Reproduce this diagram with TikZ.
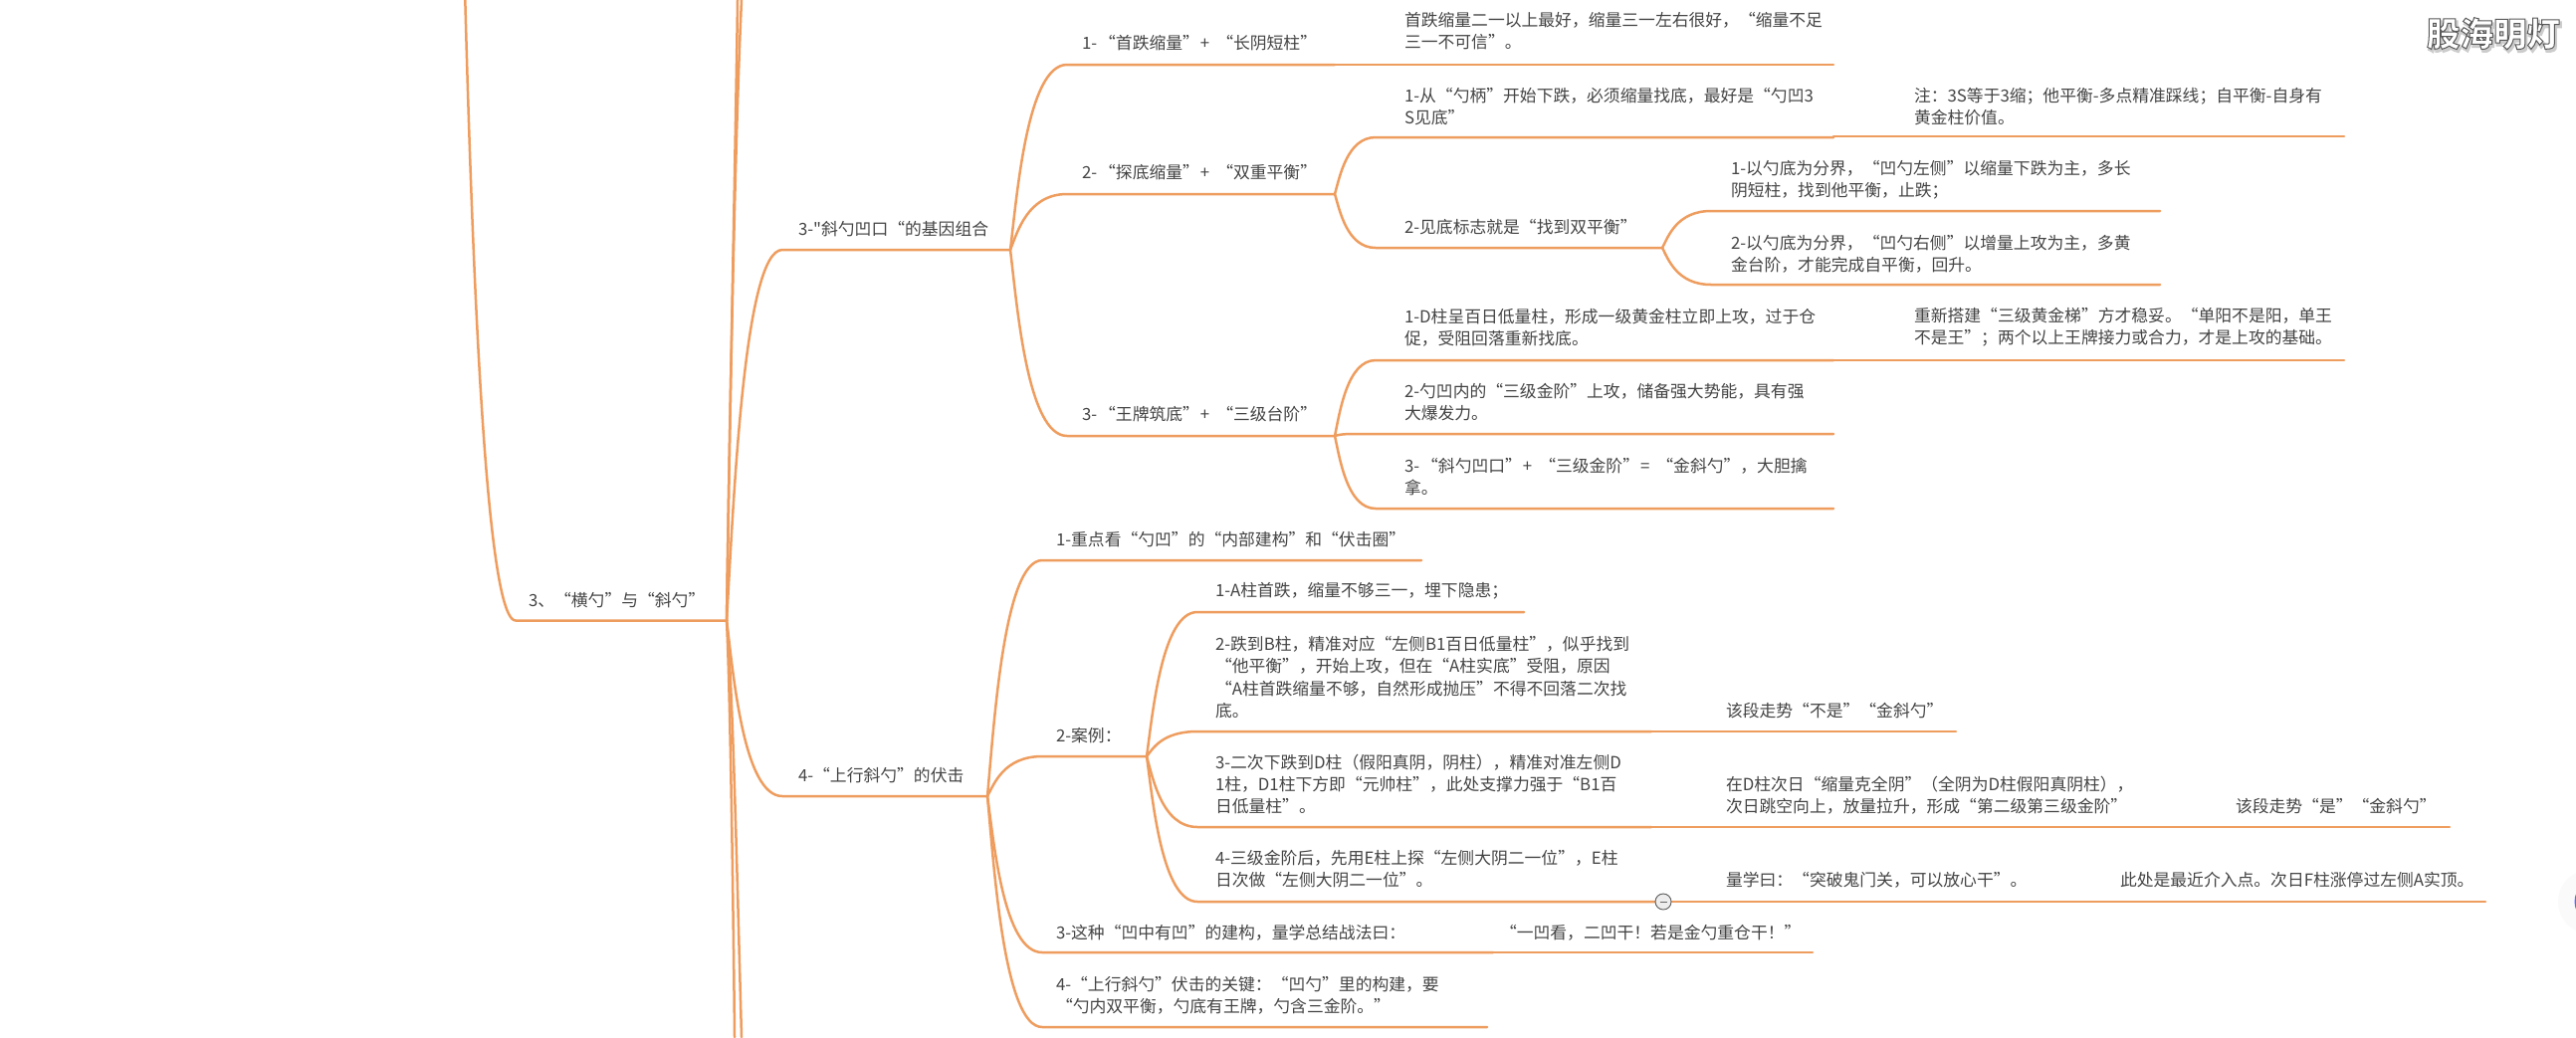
\documentclass[tikz,border=0pt]{standalone}
\usepackage{fontspec}
\usetikzlibrary{calc}
\setmainfont{Noto Sans CJK SC}
\newfontfamily\plainquote{Noto Sans CJK SC}
\definecolor{branchc}{HTML}{EE9D5F}
\definecolor{textc}{HTML}{444444}
\tikzset{
  txt/.style={anchor=west,inner sep=0pt,outer sep=0pt,align=left,text=textc,font=\fontsize{16.8}{22.3}\selectfont},
  branchline/.style={draw=branchc,line width=2.5pt,line cap=round,line join=round}
}
% curved connector from the named point #1 to the new point #2-s, then a rule to #2-e
\newcommand{\branchrule}[5]{%
  \coordinate (#2-s) at (#3,#4);
  \coordinate (#2-e) at (#5,#4);
  \path[branchline] let \p1=(#1),\p2=(#2-s) in (#1)
    .. controls ({\x1+0.12*(\x2-\x1)},{\y1+0.3*(\y2-\y1)}) and ({\x1+0.3*(\x2-\x1)},\y2) .. (#2-s) -- (#2-e);
}
\begin{document}
\begin{tikzpicture}[x=1pt,y=-1pt]
\path[use as bounding box,fill=white] (0,0) rectangle (2588,1042);
\clip (0,0) rectangle (2588,1042);

% level 1
\coordinate (root) at (460,-300);
\branchrule{root}{m}{518}{623.5}{730}
\node[txt] (tm) at (531,603) {3、“横勺”与“斜勺”};

% strands that run off the page
\coordinate (up1) at (741,0);
\coordinate (up2) at (745,0);
\coordinate (dn1) at (738,1042);
\coordinate (dn2) at (745,1042);
\draw[branchline] (m-e) .. controls (733,420) and (738,200) .. (up1);
\draw[branchline] (m-e) .. controls (733,430) and (738,150) .. (up2);
\draw[branchline] (m-e) .. controls (733,680) and (736,850) .. (dn1);
\draw[branchline] (m-e) .. controls (736,680) and (741,900) .. (dn2);

% 3-斜勺凹口
\branchrule{m-e}{a}{786}{251}{1015}
\node[txt] (ta) at (802,230) {3-{\plainquote"}斜勺凹口“的基因组合};

\branchrule{a-e}{a1}{1072}{65}{1341}
\node[txt] (ta1) at (1087,43) {1-\kern2pt“首跌缩量”\kern1pt+\kern7pt“长阴短柱”};
\branchrule{a1-e}{a1x}{1341}{65}{1842}
\node[txt] (ta1x) at (1411,31) {首跌缩量二一以上最好，缩量三一左右很好，“缩量不足\\三一不可信”。};

\branchrule{a-e}{a2}{1072}{195}{1341}
\node[txt] (ta2) at (1087,173) {2-\kern2pt“探底缩量”\kern1pt+\kern7pt“双重平衡”};
\branchrule{a2-e}{a21}{1382}{138}{1842}
\node[txt] (ta21) at (1411,107) {1-从“勺柄”开始下跌，必须缩量找底，最好是“勺凹3\\S见底”};
\branchrule{a21-e}{a21x}{1842}{137}{2355}
\node[txt] (ta21x) at (1923,107) {注：3S等于3缩；他平衡-多点精准踩线；自平衡-自身有\\黄金柱价值。};
\branchrule{a2-e}{a22}{1382}{249}{1670}
\node[txt] (ta22) at (1411,228) {2-见底标志就是“找到双平衡”};
\branchrule{a22-e}{a221}{1719}{212}{2170}
\node[txt] (ta221) at (1739,181) {1-以勺底为分界，“凹勺左侧”以缩量下跌为主，多长\\阴短柱，找到他平衡，止跌；};
\branchrule{a22-e}{a222}{1719}{286}{2170}
\node[txt] (ta222) at (1739,255) {2-以勺底为分界，“凹勺右侧”以增量上攻为主，多黄\\金台阶，才能完成自平衡，回升。};

\branchrule{a-e}{a3}{1072}{438}{1341}
\node[txt] (ta3) at (1087,416) {3-\kern2pt“王牌筑底”\kern1pt+\kern7pt“三级台阶”};
\branchrule{a3-e}{a31}{1382}{362}{1842}
\node[txt] (ta31) at (1411,329) {1-D柱呈百日低量柱，形成一级黄金柱立即上攻，过于仓\\促，受阻回落重新找底。};
\branchrule{a31-e}{a31x}{1842}{362}{2355}
\node[txt] (ta31x) at (1923,329) {重新搭建“三级黄金梯”方才稳妥。“单阳不是阳，单王\\不是王”；两个以上王牌接力或合力，才是上攻的基础。};
\branchrule{a3-e}{a32}{1360}{436}{1842}
\node[txt] (ta32) at (1411,404) {2-勺凹内的“三级金阶”上攻，储备强大势能，具有强\\大爆发力。};
\branchrule{a3-e}{a33}{1382}{511}{1842}
\node[txt] (ta33) at (1411,479) {3-\kern2pt“斜勺凹口”\kern1pt+\kern7pt“三级金阶”\kern1pt=\kern7pt“金斜勺”，大胆擒\\拿。};

% 4-上行斜勺
\branchrule{m-e}{b}{786}{800}{992}
\node[txt] (tb) at (802,779) {4-“上行斜勺”的伏击};

\branchrule{b-e}{b1}{1047}{563}{1428}
\node[txt] (tb1) at (1061,542) {1-重点看“勺凹”的“内部建构”和“伏击圈”};
\branchrule{b-e}{b2}{1047}{760}{1152}
\node[txt] (tb2) at (1061,739) {2-案例：};

\branchrule{b2-e}{c1}{1203}{615}{1531}
\node[txt] (tc1) at (1221,594) {1-A柱首跌，缩量不够三一，埋下隐患；};
\branchrule{b2-e}{c2}{1203}{735}{1659}
\node[txt] (tc2) at (1221,680.5) {2-跌到B柱，精准对应“左侧B1百日低量柱”，似乎找到\\“他平衡”，开始上攻，但在“A柱实底”受阻，原因\\“A柱首跌缩量不够，自然形成抛压”不得不回落二次找\\底。};
\branchrule{c2-e}{c2x}{1659}{735}{1965}
\node[txt] (tc2x) at (1734,714) {该段走势“不是”“金斜勺”};
\branchrule{b2-e}{c3}{1203}{831}{1659}
\node[txt] (tc3) at (1221,788) {3-二次下跌到D柱（假阳真阴，阴柱），精准对准左侧D\\1柱，D1柱下方即“元帅柱”，此处支撑力强于“B1百\\日低量柱”。};
\branchrule{c3-e}{c3x}{1659}{831}{2150}
\node[txt] (tc3x) at (1734,799) {在D柱次日“缩量克全阴”（全阴为D柱假阳真阴柱），\\次日跳空向上，放量拉升，形成“第二级第三级金阶”};
\branchrule{c3x-e}{c3y}{2150}{831}{2461}
\node[txt] (tc3y) at (2246,810) {该段走势“是”“金斜勺”};
\branchrule{b2-e}{c4}{1203}{906}{1671}
\node[txt] (tc4) at (1221,873) {4-三级金阶后，先用E柱上探“左侧大阴二一位”，E柱\\日次做“左侧大阴二一位”。};
\branchrule{c4-e}{c4x}{1671}{906}{2120}
\node[txt] (tc4x) at (1734,884) {量学曰：“突破鬼门关，可以放心干”。};
\branchrule{c4x-e}{c4y}{2120}{906}{2497}
\node[txt] (tc4y) at (2130,884) {此处是最近介入点。次日F柱涨停过左侧A实顶。};
\node[circle,draw=black!65,fill=black!7,line width=0.9pt,minimum size=16pt,inner sep=0pt] (fold) at (c4-e) {};
\draw[black!60,line width=1pt] ([xshift=-3.5pt]fold.center) -- ([xshift=3.5pt]fold.center);

\branchrule{b-e}{b3}{1047}{957}{1500}
\node[txt] (tb3) at (1061,937) {3-这种“凹中有凹”的建构，量学总结战法曰：};
\branchrule{b3-e}{b3x}{1500}{957}{1821}
\node[txt] (tb3x) at (1507,937) {“一凹看，二凹干！若是金勺重仓干！”};
\branchrule{b-e}{b4}{1047}{1032}{1494}
\node[txt] (tb4) at (1061,1000) {4-“上行斜勺”伏击的关键：“凹勺”里的构建，要\\“勺内双平衡，勺底有王牌，勺含三金阶。”};

% edge widget, cut by the page
\fill[black!2] (2602,906) circle (32);
\fill[blue!60!white] (2592,906) ellipse (5.5 and 11.5);

% watermark
\node[anchor=center,inner sep=0pt] (wm) at (2505,35) {\fontsize{33.5}{33.5}\selectfont\bfseries
  \rlap{\kern1.5pt\raisebox{-2.5pt}{\color{black!25}\special{pdf:code 2 Tr 2.2 w 0.8 G 0.8 g}股海明灯\special{pdf:code 0 Tr}}}%
  \color{white}\special{pdf:code 2 Tr 1 w 0.35 G 1 g}股海明灯\special{pdf:code 0 Tr}};
\end{tikzpicture}
\end{document}
